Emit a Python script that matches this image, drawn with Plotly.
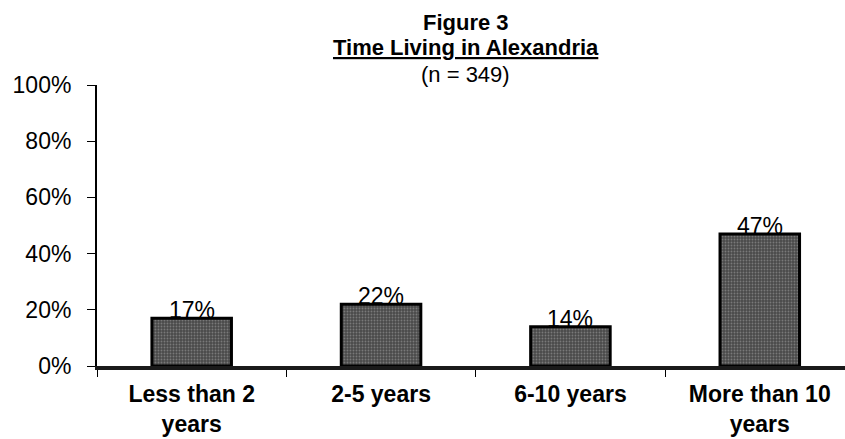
import plotly.graph_objects as go

categories = ["Less than 2<br>years", "2-5 years", "6-10 years", "More than 10<br>years"]
values = [17, 22, 14, 47]
value_labels = ["17%", "22%", "14%", "47%"]
y_ticks = [0, 20, 40, 60, 80, 100]
y_tick_labels = ["0%", "20%", "40%", "60%", "80%", "100%"]

BASE_FONT = "Liberation Sans, Arial, sans-serif"

fig = go.Figure(
    go.Bar(
        x=categories,
        y=values,
        width=0.42,
        marker=dict(
            color="#4a4a4a",
            line=dict(color="#000000", width=3),
            pattern=dict(shape=".", fgcolor="#a8a8a8", size=3, solidity=0.3),
        ),
        hoverinfo="skip",
    )
)

# value labels resting on top of each bar
for cat, val, lab in zip(categories, values, value_labels):
    fig.add_annotation(
        x=cat, y=val, text=lab, showarrow=False,
        yanchor="bottom", yshift=-7,
        font=dict(family=BASE_FONT, size=23, color="#000000"),
    )

# chart heading block
title_x = 0.493
fig.add_annotation(
    xref="paper", yref="paper", x=title_x, y=1.221, yanchor="middle",
    text="<b>Figure 3</b>", showarrow=False,
    font=dict(family=BASE_FONT, size=22, color="#000"),
)
fig.add_annotation(
    xref="paper", yref="paper", x=title_x, y=1.132, yanchor="middle",
    text="<b><u>Time Living in Alexandria</u></b>", showarrow=False,
    font=dict(family=BASE_FONT, size=22, color="#000"),
)
fig.add_annotation(
    xref="paper", yref="paper", x=title_x, y=1.036, yanchor="middle",
    text="(n = 349)", showarrow=False,
    font=dict(family=BASE_FONT, size=22, color="#000"),
)

fig.update_layout(
    width=845, height=439,
    margin=dict(l=97, r=0, t=85, b=73),
    paper_bgcolor="white", plot_bgcolor="white",
    showlegend=False,
    font=dict(family=BASE_FONT, size=22, color="#000"),
)
fig.update_xaxes(
    range=[-0.5, 3.45],
    automargin=False,
    showline=True, linecolor="#1a1a1a", linewidth=4,
    ticks="outside", tickson="boundaries", ticklen=7, tickcolor="#000", tickwidth=1,
    ticklabelstandoff=4,
    tickfont=dict(family=BASE_FONT, size=23, color="#000"),
    tickprefix="<b>", ticksuffix="</b>",
    showgrid=False, zeroline=False,
)
fig.update_yaxes(
    range=[0, 100],
    automargin=False,
    tickvals=y_ticks, ticktext=y_tick_labels,
    showline=True, linecolor="#000", linewidth=2,
    ticks="outside", ticklen=8, tickcolor="#000", tickwidth=1,
    ticklabelstandoff=11,
    tickfont=dict(family=BASE_FONT, size=23, color="#000"),
    showgrid=False, zeroline=False,
)

fig.write_html("out.html")
